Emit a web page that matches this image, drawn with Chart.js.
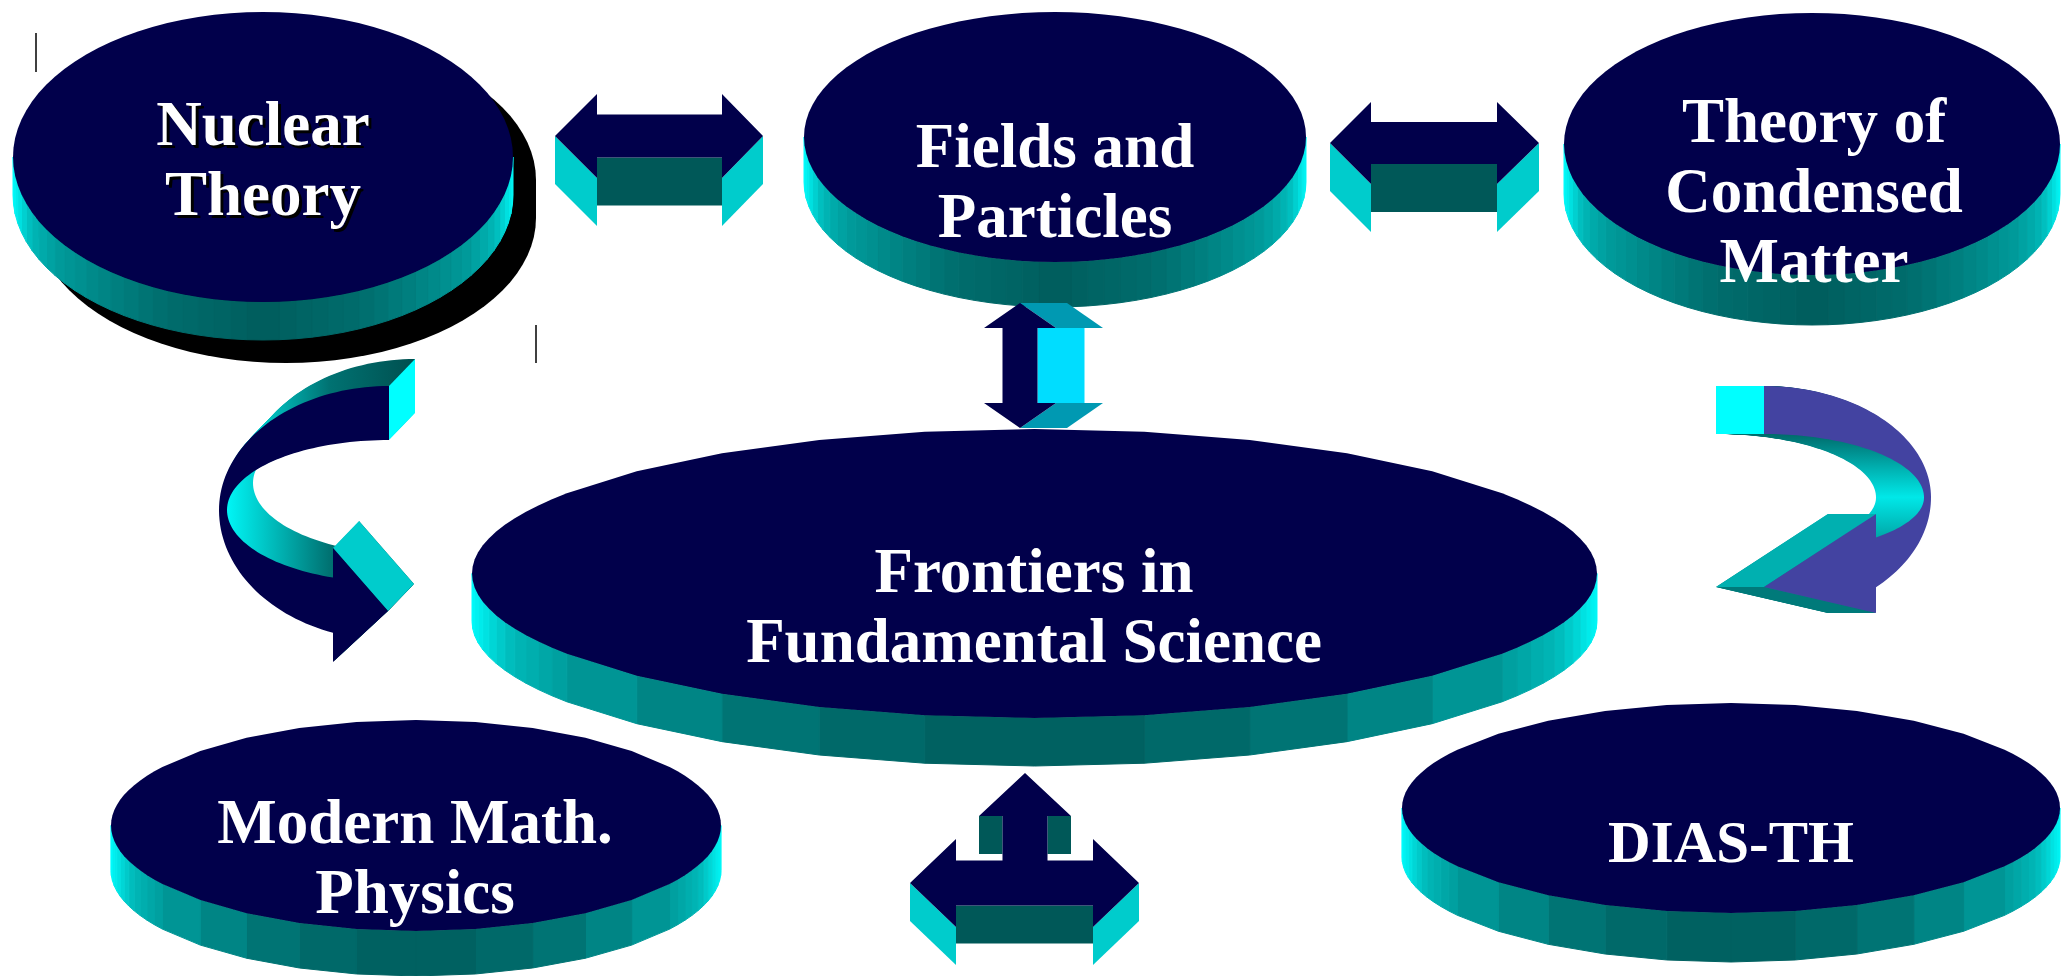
<!DOCTYPE html>
<html>
<head>
<meta charset="utf-8">
<title>Frontiers in Fundamental Science</title>
<script src="https://cdn.jsdelivr.net/npm/chart.js@4.4.1/dist/chart.umd.min.js"></script>
<style>
  html, body { margin: 0; padding: 0; background: #ffffff; overflow: hidden; }
  canvas { display: block; }
</style>
</head>
<body>
<canvas id="diagram" width="2063" height="976"></canvas>
<script>
// ---- Topic discs (centre, radii, thickness in diagram units) ----
const nodeLines  = [['Nuclear', 'Theory'], ['Fields and', 'Particles'], ['Theory of', 'Condensed', 'Matter'],
                    ['Frontiers in', 'Fundamental Science'], ['Modern Math.', 'Physics'], ['DIAS-TH']];
const nodeX      = [263, 1055, 1812, 1034.5, 416, 1731];
const nodeY      = [157, 137, 144, 573.5, 825.5, 808];
const nodeRx     = [250, 251, 248, 562.5, 305, 329];
const nodeRy     = [145, 125, 131, 144.5, 105.5, 105];
const nodeDepth  = [38, 45, 50, 48, 45, 49];
const nodeFacets = [96, 96, 96, 32, 32, 32];
const nodeShadow = [[23, 23], null, null, null, null, null];
const labelX     = [263, 1055, 1814, 1034, 415, 1731];
const labelBaseY = [145, 167, 142, 592, 843, 862];
const labelSize  = [63, 63, 63, 63, 63, 59];
const labelShadow = [true, false, false, false, false, false];

// ---- Straight double arrows (horizontal, extruded downwards) ----
const hTipL   = [555, 1330, 910];
const hNeckL  = [597, 1371, 956];
const hNeckR  = [722, 1497, 1093];
const hTipR   = [763, 1539, 1139];
const hY      = [136, 143, 883];
const hHead   = [42, 41, 44];
const hShaft  = [21.5, 21, 22.5];
const hDepth  = [48, 48, 38];

// ---- Upward branch on the lower arrow ----
const upX = 1025, upTip = 773, upNeck = 816, upWing = 46, upShaft = 22.5, upBase = 860, upDepth = 38;

// ---- Vertical double arrow (extruded to the right) ----
const vX = 1020, vTop = 303, vBottom = 428, vHeadLen = 25, vWing = 36, vShaft = 17.5, vDepth = 47;

// ---- Curved arrows: elliptical bands ending in a head ----
const cCx      = [389, 1764];
const cCy      = [510, 497.5];
const cOutRx   = [170, 167];
const cOutRyUp = [124, 111.5];
const cOutRyDn = [130, 121];
const cInRx    = [162, 160];
const cInRyUp  = [70, 63.5];
const cInRyDn  = [72, 56];
const cDir     = [-1, 1];          // -1: sweeps round the left side, 1: round the right side
const cHeadX   = [333, 1876];
const cHeadTop = [548, 514];
const cHeadBot = [662, 613];
const cTipX    = [388, 1764];
const cTipY    = [611, 587];
const cExtX    = [26, -48];
const cExtY    = [-27, 0];

// ---- Colours ----
const NAVY = '#01004b';
const FRONT_CURVE = ['#01004b', '#4343a1'];
const FACE_CYAN = '#00cccc';
const FACE_DARK = '#005858';

const shadeU = [0, .125, .25, .375, .5, .625, .75, .875, 1];
const shadeG = [0, .056, .1, .2, .3, .4, .56, .86, 1];
function sideColor(t) {
  let u = Math.abs(t - Math.PI / 2) / (Math.PI / 2);
  u = Math.min(1, Math.max(0, u));
  const i = Math.min(shadeU.length - 2, Math.floor(u * 8));
  const f = (u - shadeU[i]) / (shadeU[i + 1] - shadeU[i]);
  const g = shadeG[i] + (shadeG[i + 1] - shadeG[i]) * f;
  const v = Math.round(92 + 163 * g);
  return `rgb(0,${v},${v})`;
}

function poly(ctx, P, pts, fill, seam) {
  ctx.beginPath();
  pts.forEach((p, k) => { const q = P(p[0], p[1]); k ? ctx.lineTo(q[0], q[1]) : ctx.moveTo(q[0], q[1]); });
  ctx.closePath();
  ctx.fillStyle = fill;
  ctx.fill();
  if (seam) { ctx.strokeStyle = fill; ctx.lineWidth = 1; ctx.stroke(); }
}

// facet angles: even steps, with the two narrow ends subdivided so they stay round
function facetAngles(n) {
  const step = 2 * Math.PI / n, out = [];
  for (let k = 0; k < n; k++) {
    const a = k * step;
    const distEnd = Math.min(Math.abs(Math.sin(a)), Math.abs(Math.sin(a + step)));
    const sub = (n <= 48 && distEnd < 0.45) ? 4 : 1;
    for (let s = 0; s < sub; s++) out.push(a + step * s / sub);
  }
  out.push(2 * Math.PI);
  return out;
}

function drawDisc(ctx, P, i) {
  const cx = nodeX[i], cy = nodeY[i], rx = nodeRx[i], ry = nodeRy[i], d = nodeDepth[i], n = nodeFacets[i];
  const at = (t, ox, oy) => [cx + ox + rx * Math.cos(t), cy + oy + ry * Math.sin(t)];
  const angles = facetAngles(n);
  if (nodeShadow[i]) {
    const [sx, sy] = nodeShadow[i];
    const pts = [];
    angles.filter(t => t >= Math.PI - 1e-9).forEach(t => pts.push(at(t, sx, sy)));
    angles.filter(t => t <= Math.PI + 1e-9).forEach(t => pts.push(at(t, sx, sy + d)));
    poly(ctx, P, pts, '#000000');
  }
  // side wall, one shaded panel per facet of the lower half
  for (let k = 0; k < angles.length - 1; k++) {
    const t0 = angles[k], t1 = angles[k + 1];
    if (t0 >= Math.PI - 1e-9) break;
    poly(ctx, P, [at(t0, 0, 0), at(t1, 0, 0), at(t1, 0, d), at(t0, 0, d)], sideColor((t0 + t1) / 2), true);
  }
  // top face
  poly(ctx, P, angles.slice(0, -1).map(t => at(t, 0, 0)), NAVY);
}

function drawHArrow(ctx, P, i) {
  const xl = hTipL[i], xli = hNeckL[i], xri = hNeckR[i], xr = hTipR[i];
  const y = hY[i], hh = hHead[i], sh = hShaft[i], d = hDepth[i];
  poly(ctx, P, [[xl, y], [xli, y + hh], [xli, y + hh + d], [xl, y + d]], FACE_CYAN);
  poly(ctx, P, [[xr, y], [xri, y + hh], [xri, y + hh + d], [xr, y + d]], FACE_CYAN);
  poly(ctx, P, [[xli, y + sh], [xri, y + sh], [xri, y + sh + d], [xli, y + sh + d]], FACE_DARK);
  poly(ctx, P, [[xl, y], [xli, y - hh], [xli, y - sh], [xri, y - sh], [xri, y - hh], [xr, y],
                [xri, y + hh], [xri, y + sh], [xli, y + sh], [xli, y + hh]], NAVY);
}

function drawUpBranch(ctx, P) {
  poly(ctx, P, [[upX - upWing, upNeck], [upX - upShaft, upNeck], [upX - upShaft, upNeck + upDepth], [upX - upWing, upNeck + upDepth]], FACE_DARK);
  poly(ctx, P, [[upX + upShaft, upNeck], [upX + upWing, upNeck], [upX + upWing, upNeck + upDepth], [upX + upShaft, upNeck + upDepth]], FACE_DARK);
}
function drawUpFront(ctx, P) {
  poly(ctx, P, [[upX, upTip], [upX + upWing, upNeck], [upX + upShaft, upNeck], [upX + upShaft, upBase + 2],
                [upX - upShaft, upBase + 2], [upX - upShaft, upNeck], [upX - upWing, upNeck]], NAVY);
}

function drawVArrow(ctx, P) {
  const top = vTop, bot = vBottom, hl = vHeadLen, w = vWing, s = vShaft, d = vDepth, x = vX;
  poly(ctx, P, [[x, top], [x + d, top], [x + w + d, top + hl], [x + w, top + hl]], '#0099b2');
  poly(ctx, P, [[x + s, top + hl], [x + s + d, top + hl], [x + s + d, bot - hl], [x + s, bot - hl]], '#00ddff');
  poly(ctx, P, [[x + w, bot - hl], [x + w + d, bot - hl], [x + d, bot], [x, bot]], '#0099b2');
  poly(ctx, P, [[x, top], [x + w, top + hl], [x + s, top + hl], [x + s, bot - hl], [x + w, bot - hl], [x, bot],
                [x - w, bot - hl], [x - s, bot - hl], [x - s, top + hl], [x - w, top + hl]], NAVY);
}

function curvePoints(i) {
  const cx = cCx[i], cy = cCy[i], dir = cDir[i];
  const pt = (rx, ryU, ryD, t) => { const s = Math.sin(t); return [cx + rx * Math.cos(t), cy + (s < 0 ? ryU : ryD) * s]; };
  const endAngle = (rx) => Math.acos(Math.max(-1, Math.min(1, (cHeadX[i] - cx) / rx)));
  const tOut = endAngle(cOutRx[i]), tIn = endAngle(cInRx[i]);
  const outer = [], inner = [];
  const N = 80;
  const a0 = dir < 0 ? 1.5 * Math.PI : -Math.PI / 2;
  for (let k = 0; k <= N; k++) outer.push(pt(cOutRx[i], cOutRyUp[i], cOutRyDn[i], a0 + (tOut - a0) * k / N));
  for (let k = 0; k <= N; k++) inner.push(pt(cInRx[i], cInRyUp[i], cInRyDn[i], a0 + (tIn - a0) * k / N));
  const pts = outer.slice();
  pts.push([cHeadX[i], cHeadBot[i]], [cTipX[i], cTipY[i]], [cHeadX[i], cHeadTop[i]]);
  for (let k = inner.length - 1; k >= 0; k--) pts.push(inner[k]);
  return { pts, outer, inner };
}

function drawCurve(ctx, P, i) {
  const { pts, outer, inner } = curvePoints(i);
  const ex = cExtX[i], ey = cExtY[i];
  const steps = Math.ceil(Math.max(Math.abs(ex), Math.abs(ey)));
  let grad;
  if (i === 0) {
    const a = P(220, 0), b = P(415, 0);
    grad = ctx.createLinearGradient(a[0], 0, b[0], 0);
    grad.addColorStop(0, '#00ffff');
    grad.addColorStop(0.22, '#00c8c8');
    grad.addColorStop(0.56, '#007272');
    grad.addColorStop(1, '#004f4f');
  } else {
    const a = P(0, 386), b = P(0, 613);
    grad = ctx.createLinearGradient(0, a[1], 0, b[1]);
    grad.addColorStop(0, '#005f5f');
    grad.addColorStop(0.21, '#006a6a');
    grad.addColorStop(0.37, '#00b4b4');
    grad.addColorStop(0.49, '#00e8e8');
    grad.addColorStop(0.70, '#009c9c');
    grad.addColorStop(1, '#007a7a');
  }
  for (let k = steps; k >= 1; k--) {
    const ox = ex * k / steps, oy = ey * k / steps;
    poly(ctx, P, pts.map(p => [p[0] + ox, p[1] + oy]), grad);
  }
  // end cap where the band starts
  const o0 = outer[0], i0 = inner[0];
  poly(ctx, P, [o0, [o0[0] + ex, o0[1] + ey], [i0[0] + ex, i0[1] + ey], i0], '#00ffff');
  // side faces of the head
  const tip = [cTipX[i], cTipY[i]], ht = [cHeadX[i], cHeadTop[i]], hb = [cHeadX[i], cHeadBot[i]];
  if (i === 0) {
    poly(ctx, P, [ht, [ht[0] + ex, ht[1] + ey], [tip[0] + ex, tip[1] + ey], tip], '#00cccc');
  } else {
    poly(ctx, P, [ht, [ht[0] + ex, ht[1] + ey], [tip[0] + ex, tip[1] + ey], tip], '#00b0b0');
    poly(ctx, P, [hb, [hb[0] + ex, hb[1] + ey], [tip[0] + ex, tip[1] + ey], tip], '#007a7a');
  }
  poly(ctx, P, pts, FRONT_CURVE[i]);
}

const diagramPlugin = {
  id: 'scienceDiagram',
  afterDatasetsDraw(chart) {
    const ctx = chart.ctx, xs = chart.scales.x, ys = chart.scales.y;
    const P = (x, y) => [xs.getPixelForValue(x), ys.getPixelForValue(y)];
    ctx.save();
    for (let i = 0; i < nodeX.length; i++) drawDisc(ctx, P, i);
    drawHArrow(ctx, P, 0);
    drawHArrow(ctx, P, 1);
    drawUpBranch(ctx, P);
    drawHArrow(ctx, P, 2);
    drawUpFront(ctx, P);
    drawVArrow(ctx, P);
    drawCurve(ctx, P, 0);
    drawCurve(ctx, P, 1);

    // labels
    ctx.textAlign = 'center';
    ctx.textBaseline = 'alphabetic';
    for (let i = 0; i < nodeLines.length; i++) {
      ctx.font = `bold ${labelSize[i]}px "Liberation Serif", "Times New Roman", serif`;
      nodeLines[i].forEach((line, k) => {
        const p = P(labelX[i], labelBaseY[i] + k * 70);
        if (labelShadow[i]) {
          ctx.fillStyle = '#000000';
          ctx.fillText(line, p[0] + 3, p[1] + 3);
        }
        ctx.fillStyle = '#ffffff';
        ctx.fillText(line, p[0], p[1]);
      });
    }

    // small guide marks
    ctx.strokeStyle = '#000000';
    ctx.lineWidth = 1.5;
    [[36, 33, 72], [536, 325, 363]].forEach(m => {
      const a = P(m[0], m[1]), b = P(m[0], m[2]);
      ctx.beginPath(); ctx.moveTo(a[0], a[1]); ctx.lineTo(b[0], b[1]); ctx.stroke();
    });
    ctx.restore();
  }
};

new Chart(document.getElementById('diagram'), {
  type: 'scatter',
  data: {
    datasets: [{
      label: 'topics',
      data: nodeX.map((x, i) => ({ x, y: nodeY[i] })),
      pointRadius: 0,
      showLine: false
    }]
  },
  options: {
    responsive: false,
    animation: false,
    events: [],
    layout: { padding: 0 },
    plugins: { legend: { display: false }, tooltip: { enabled: false } },
    scales: {
      x: { type: 'linear', min: 0, max: 2063, display: false },
      y: { type: 'linear', min: 0, max: 976, reverse: true, display: false }
    }
  },
  plugins: [diagramPlugin]
});
</script>
</body>
</html>
